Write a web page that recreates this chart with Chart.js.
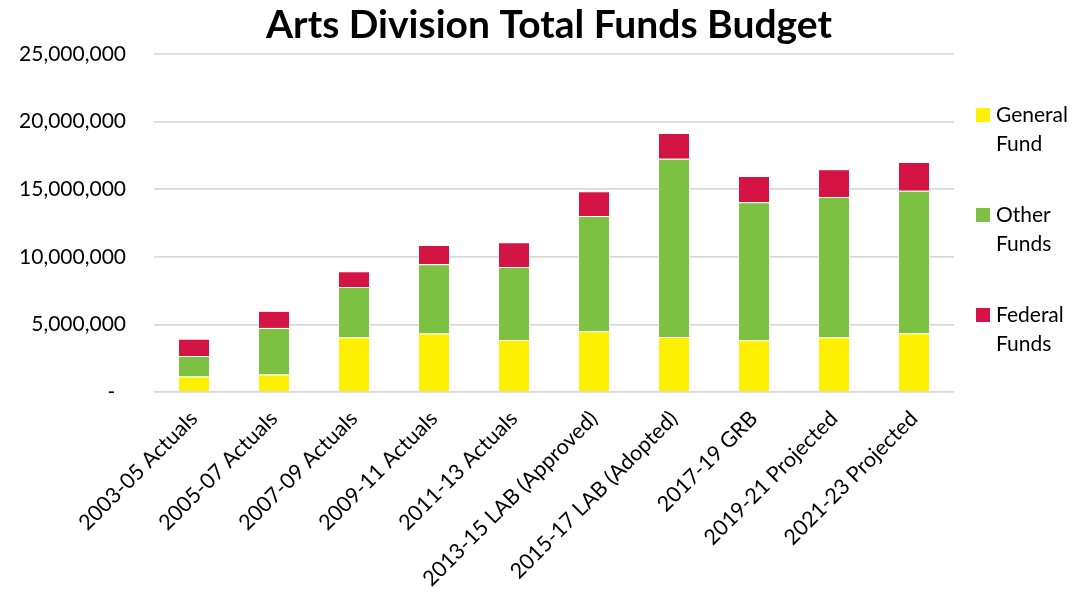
<!DOCTYPE html>
<html>
<head>
<meta charset="utf-8">
<script src="https://cdn.jsdelivr.net/npm/chart.js@4"></script>
<style>
  html, body { margin: 0; padding: 0; background: #fff; }
  #wrap { width: 1089px; height: 592px; position: relative; }
</style>
</head>
<body>
<div id="wrap"><canvas id="c" width="1089" height="592"></canvas></div>
<script>
// Biennium labels
const periods = [
  '2003-05 Actuals', '2005-07 Actuals', '2007-09 Actuals', '2009-11 Actuals',
  '2011-13 Actuals', '2013-15 LAB (Approved)', '2015-17 LAB (Adopted)',
  '2017-19 GRB', '2019-21 Projected', '2021-23 Projected'
];

// Funding sources (dollars)
const generalFund = [1140000, 1290000, 4050000, 4330000, 3850000, 4500000, 4070000, 3830000, 4050000, 4350000];
const otherFunds  = [1530000, 3450000, 3710000, 5120000, 5390000, 8510000, 13190000, 10200000, 10370000, 10540000];
const federalFunds = [1260000, 1260000, 1180000, 1430000, 1830000, 1830000, 1900000, 1950000, 2050000, 2120000];

const seriesNames = [['General', 'Fund'], ['Other', 'Funds'], ['Federal', 'Funds']];
const seriesColors = ['#FFEF00', '#7CC142', '#D41444'];

const yTicks = [0, 5000000, 10000000, 15000000, 20000000, 25000000];

const chartTitle = 'Arts Division Total Funds Budget';

const FONT = 'Lato, "Open Sans", sans-serif';

// Title centred on the full canvas, plus a two-line legend on the right side
const decorations = {
  id: 'decorations',
  afterDraw(chart) {
    const ctx = chart.ctx;
    ctx.save();
    ctx.fillStyle = '#000';
    ctx.font = 'bold 39px ' + FONT;
    ctx.textAlign = 'center';
    ctx.textBaseline = 'alphabetic';
    ctx.fillText(chartTitle, 549, 38);

    ctx.font = '21px ' + FONT;
    ctx.textBaseline = 'middle';
    ctx.textAlign = 'left';
    chart.data.datasets.forEach((ds, i) => {
      const top = 115 + i * 100;
      ctx.fillStyle = ds.backgroundColor;
      ctx.fillRect(976, top - 7, 14, 14);
      ctx.fillStyle = '#000';
      ds.legendLines.forEach((line, j) => ctx.fillText(line, 996, top + j * 29));
    });
    ctx.restore();
  }
};

const fmt = new Intl.NumberFormat('en-US');

new Chart(document.getElementById('c'), {
  type: 'bar',
  data: {
    labels: periods,
    datasets: [generalFund, otherFunds, federalFunds].map((vals, i) => ({
      label: seriesNames[i].join(' '),
      legendLines: seriesNames[i],
      data: vals,
      backgroundColor: seriesColors[i],
      borderColor: 'rgba(255,255,255,0.55)',
      borderWidth: 1,
      categoryPercentage: 1,
      barPercentage: 0.4
    }))
  },
  options: {
    responsive: false,
    animation: false,
    events: [],
    layout: { padding: { left: 0, right: 135, top: 54, bottom: 0 } },
    plugins: {
      legend: { display: false },
      tooltip: { enabled: false },
      title: { display: false }
    },
    scales: {
      x: {
        stacked: true,
        grid: { display: false, drawTicks: false },
        border: { display: false },
        ticks: {
          color: '#000',
          font: { family: FONT, size: 21.5 },
          maxRotation: 45,
          minRotation: 45,
          autoSkip: false,
          padding: 14
        },
        afterFit(scale) { scale.height = 200; }
      },
      y: {
        stacked: true,
        min: 0,
        max: 25000000,
        afterBuildTicks(scale) { scale.ticks = yTicks.map(v => ({ value: v })); },
        grid: {
          color: '#D9D9D9',
          lineWidth: 1.8,
          drawTicks: false
        },
        border: { display: false },
        ticks: {
          color: '#000',
          font: { family: FONT, size: 21 },
          padding: 28,
          callback: v => v === 0 ? '-  ' : fmt.format(v)
        },
        afterFit(scale) { scale.width = 154; }
      }
    }
  },
  plugins: [decorations]
});
</script>
</body>
</html>
